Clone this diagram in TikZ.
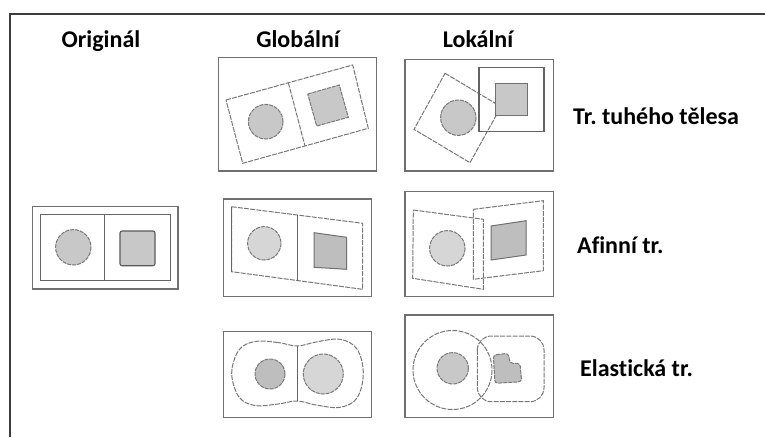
\documentclass[tikz,border=0pt]{standalone}
\usepackage{fontspec}
\setmainfont{Carlito}[Ligatures=NoCommon]
\frenchspacing
\definecolor{frm}{HTML}{3C3C3C}
\definecolor{boxln}{HTML}{707070}
\definecolor{dashln}{HTML}{787878}
\definecolor{fillA}{HTML}{C8C8C8}
\definecolor{fillB}{HTML}{D6D6D6}
\definecolor{fillC}{HTML}{BEBEBE}
\tikzset{
  outerbox/.style={draw=boxln, line width=1.4pt},
  solidln/.style={draw=boxln!90!black, line width=1.1pt},
  dashln/.style={draw=dashln, line width=1pt, dash pattern=on 5pt off 1.2pt},
  shapefill/.style={fill=fillA, draw=dashln, line width=1pt, dash pattern=on 4pt off 1pt},
  lbl/.style={font=\fontsize{24}{28}\selectfont\bfseries, text=black, inner sep=0pt},
}
\begin{document}
\begin{tikzpicture}[x=1pt,y=-1pt]
\useasboundingbox (0,0) rectangle (765,437);
\fill[white] (0,0) rectangle (765,437);
% frame
\draw[frm, line width=2pt] (10,437) -- (10,14) -- (765,14);

% headers
\node[lbl, anchor=base] (hOrig) at (101,47) {Originál};
\node[lbl, anchor=base] (hGlob) at (298,47) {Globální};
\node[lbl, anchor=base] (hLok) at (478,47) {Lokální};

% row labels
\node[lbl, anchor=base west] (lRigid) at (573,124.3) {Tr. tuhého tělesa};
\node[lbl, anchor=base west] (lAff) at (577,253.3) {Afinní tr.};
\node[lbl, anchor=base west] (lEl) at (580,376) {Elastická tr.};

% ---------- Original ----------
\draw[outerbox] (32.7,206.7) rectangle (178,289);
\draw[solidln] (40.7,214.3) rectangle (170.7,280.7);
\draw[solidln] (104.3,214.3) -- (104.3,280.7);
\draw[shapefill] (73.3,247.3) circle (17.7);
\draw[fill=fillA, draw=boxln!80!black, line width=1.1pt, rounded corners=2pt] (120,231) rectangle (155,265.7);

% ---------- Global rigid ----------
\draw[outerbox] (218.3,57.7) rectangle (376.7,171);
\draw[dashln] (226,100) -- (352.7,65) -- (368.3,128.3) -- (242.7,163.3) -- cycle;
\draw[dashln] (288.3,82.7) -- (305,146);
\draw[shapefill] (265.7,121.7) circle (17.3);
\draw[shapefill] (307.7,94) -- (339.3,85) -- (348.3,117.3) -- (316.7,126) -- cycle;

% ---------- Local rigid ----------
\draw[outerbox] (405,59.3) rectangle (553.3,171);
\draw[dashln] (445,73.3) -- (501,106.7) -- (470,162.7) -- (414,129.3) -- cycle;
\draw[shapefill] (458.3,117.7) circle (17.7);
\draw[solidln, draw=frm!80] (479,67.3) rectangle (544,131.7);
\draw[fill=fillA, draw=boxln, line width=1.1pt] (495.7,83.3) rectangle (527.7,115.3);

% ---------- Global affine ----------
\draw[outerbox] (223.3,199) rectangle (371.7,296.7);
\draw[dashln] (231.7,206.7) -- (362.7,223.3) -- (362.7,289.3) -- (231.7,271.7) -- cycle;
\draw[solidln] (231.7,206.7) -- (231.7,271.7);
\draw[solidln] (297.3,215) -- (297.3,280.7);
\draw[shapefill, fill=fillB] (264.3,243.3) circle (16.7);
\draw[shapefill, fill=fillC, solid, draw=boxln] (314,232.7) -- (346.7,237.3) -- (346.7,269.3) -- (314,267.3) -- cycle;

% ---------- Local affine ----------
\draw[outerbox] (405,191.7) rectangle (553.3,296.7);
\draw[dashln] (413.3,210) -- (483.3,219.3) -- (483.3,289.3) -- (412.7,278.3) -- cycle;
\draw[dashln] (473.3,209.3) -- (543.3,200.7) -- (543.3,270.7) -- (473.3,279.3) -- cycle;
\draw[shapefill, fill=fillB] (447.3,248.3) circle (17.7);
\draw[shapefill, fill=fillC, solid, draw=boxln] (491,226) -- (526,220.7) -- (526,255) -- (491,260) -- cycle;

% ---------- Global elastic ----------
\draw[outerbox] (223.3,331.7) rectangle (371.7,417.3);
\draw[dashln] plot[smooth cycle, tension=0.6] coordinates {
  (297.3,346) (278,342.5) (255,341.5) (239,350) (231.7,373.3) (239,397)
  (255,405.5) (278,404) (297.3,401) (316,405) (340,407.3) (357,398)
  (363.3,373.3) (357,349) (340,339.3) (316,342)};
\draw[solidln] (297.3,346) -- (297.3,401);
\draw[shapefill, fill=fillC] (270,374) circle (15);
\draw[shapefill, fill=fillB] (323.3,374) circle (20);

% ---------- Local elastic ----------
\draw[outerbox] (405,315) rectangle (553.3,417.3);
\draw[dashln] (452.5,370) circle (39.5);
\draw[dashln, rounded corners=14pt] (477.3,336) rectangle (544,401.7);
\draw[shapefill] (452.7,368.3) circle (15.7);
\draw[shapefill, fill=fillC, rounded corners=3pt] (493.3,355) -- (508.3,353.3) -- (510,363.3) -- (520,363.3) -- (521.7,381.7) -- (495,383.3) -- cycle;
\end{tikzpicture}
\end{document}
